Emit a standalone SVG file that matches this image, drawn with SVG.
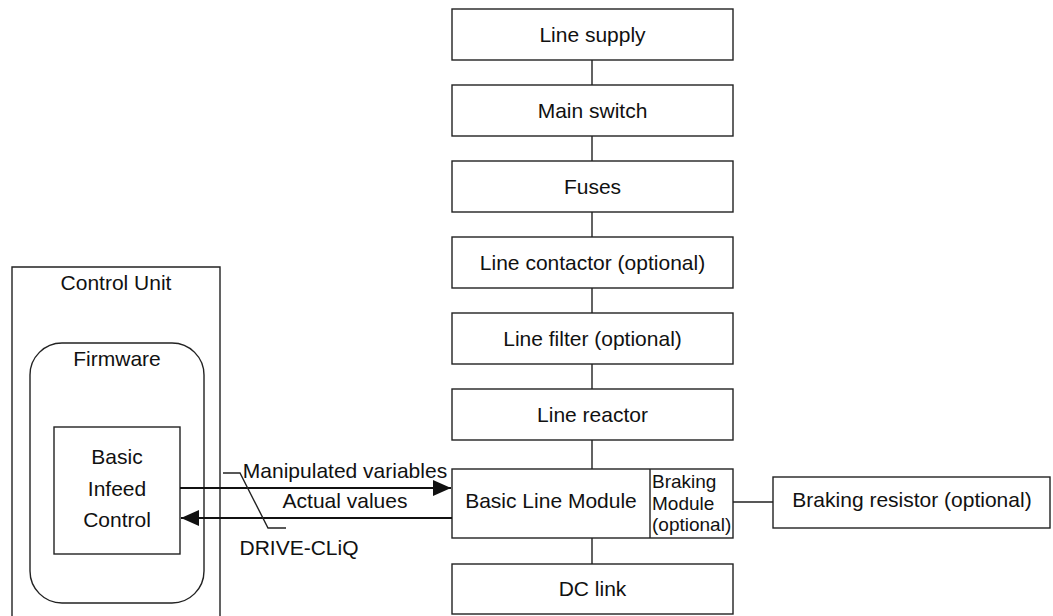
<svg xmlns="http://www.w3.org/2000/svg" width="1053" height="616" viewBox="0 0 1053 616">
<style>
.b{fill:#fff;stroke:#222;stroke-width:1.4}
.t{font-family:"Liberation Sans",Arial,sans-serif;font-size:21px;fill:#111;text-anchor:middle}
.s{font-family:"Liberation Sans",Arial,sans-serif;font-size:19px;fill:#111}
.c{fill:none;stroke:#222;stroke-width:1.4}
.a{fill:none;stroke:#111;stroke-width:2.2}
</style>
<defs>
<marker id="ah" markerWidth="18" markerHeight="16" refX="18" refY="8" orient="auto" markerUnits="userSpaceOnUse">
<path d="M0,0 L18,8 L0,16 Z" fill="#111"/>
</marker>
</defs>
<rect width="1053" height="616" fill="#fff"/>
<g id="control-unit">
<path class="b" d="M12,616V267H220V616" fill="none"/>
<text class="t" x="116" y="290">Control Unit</text>
</g>
<g id="firmware">
<rect class="b" x="30" y="343" width="174" height="260" rx="32"/>
<text class="t" x="117" y="366">Firmware</text>
</g>
<g id="basic-infeed-control">
<rect class="b" x="54" y="427" width="126" height="127"/>
<text class="t" x="117" y="464">Basic</text>
<text class="t" x="117" y="496">Infeed</text>
<text class="t" x="117" y="527">Control</text>
</g>
<g id="line-supply"><rect class="b" x="452" y="9" width="281" height="51"/><text class="t" x="592.5" y="42">Line supply</text></g>
<g id="main-switch"><rect class="b" x="452" y="85" width="281" height="51"/><text class="t" x="592.5" y="118">Main switch</text></g>
<g id="fuses"><rect class="b" x="452" y="161" width="281" height="51"/><text class="t" x="592.5" y="194">Fuses</text></g>
<g id="line-contactor"><rect class="b" x="452" y="237" width="281" height="51"/><text class="t" x="592.5" y="270">Line contactor (optional)</text></g>
<g id="line-filter"><rect class="b" x="452" y="313" width="281" height="51"/><text class="t" x="592.5" y="346">Line filter (optional)</text></g>
<g id="line-reactor"><rect class="b" x="452" y="389" width="281" height="51"/><text class="t" x="592.5" y="422">Line reactor</text></g>
<g id="basic-line-module">
<rect class="b" x="452" y="469" width="281" height="69"/>
<line class="c" x1="650" y1="469" x2="650" y2="538"/>
<text class="t" x="551" y="508">Basic Line Module</text>
</g>
<g id="braking-module">
<text class="s" x="652" y="488">Braking</text>
<text class="s" x="652" y="510">Module</text>
<text class="s" x="652" y="531">(optional)</text>
</g>
<g id="dc-link"><rect class="b" x="452" y="564" width="281" height="50"/><text class="t" x="592.5" y="596">DC link</text></g>
<g id="braking-resistor"><rect class="b" x="773" y="477" width="277" height="51"/><text class="t" x="912" y="507">Braking resistor (optional)</text></g>
<g id="connectors">
<path class="c" d="M592,60V85M592,136V161M592,212V237M592,288V313M592,364V389M592,440V469M592,538V564M733,502H773"/>
<path class="a" d="M180,488H451" marker-end="url(#ah)"/>
<path class="a" d="M452,518H181" marker-end="url(#ah)"/>
<path class="c" d="M223,473H240L268,528H286"/>
<text class="t" x="345" y="478">Manipulated variables</text>
<text class="t" x="345" y="508">Actual values</text>
<text class="t" x="299" y="555">DRIVE-CLiQ</text>
</g>
</svg>
